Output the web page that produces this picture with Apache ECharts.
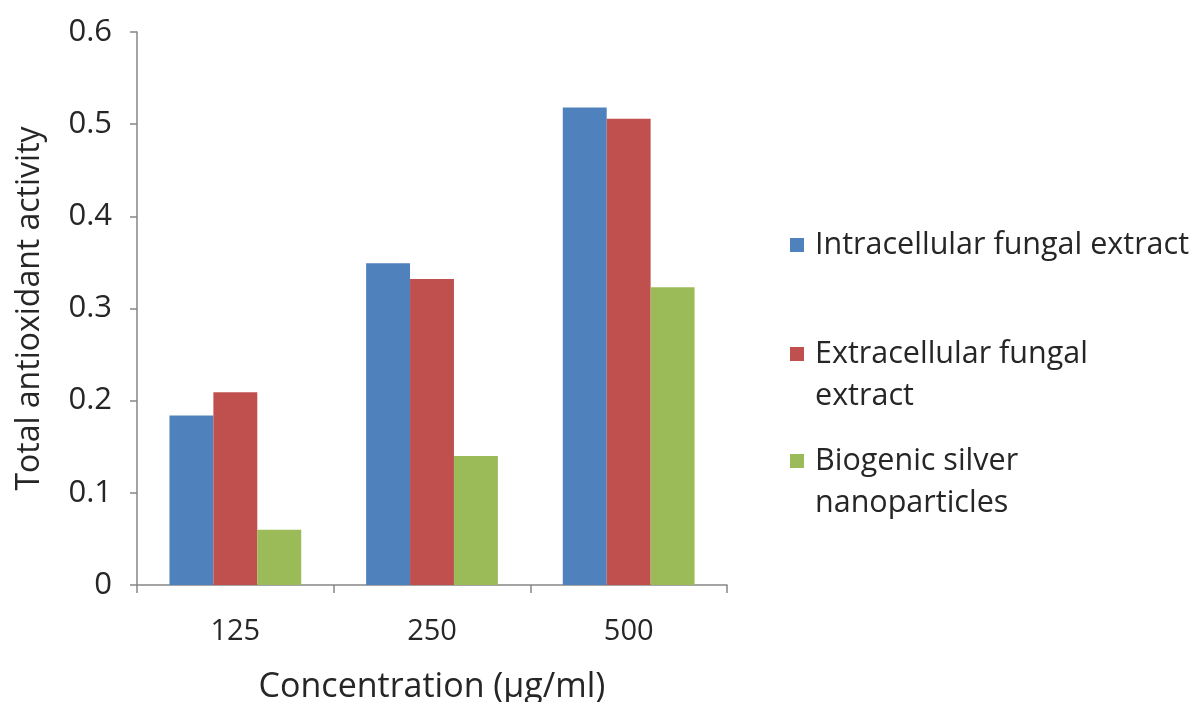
<!DOCTYPE html>
<html>
<head>
<meta charset="utf-8">
<script src="https://cdn.jsdelivr.net/npm/echarts@6/dist/echarts.min.js"></script>
<style>
html,body{margin:0;padding:0;background:#fff;}
#chart{width:1197px;height:702px;}
</style>
</head>
<body>
<div id="chart"></div>
<script>
const categories = ['125', '250', '500'];
const seriesNames = ['Intracellular fungal extract', 'Extracellular fungal extract', 'Biogenic silver nanoparticles'];
const legendLabels = ['Intracellular fungal extract', ' \nExtracellular fungal\nextract', ' \nBiogenic silver\nnanoparticles'];
const intracellular = [0.184, 0.349, 0.518];
const extracellular = [0.209, 0.332, 0.506];
const biogenic = [0.060, 0.140, 0.323];
const yTicks = [0, 0.1, 0.2, 0.3, 0.4, 0.5, 0.6];

const colors = ['#4F81BD', '#C0504D', '#9BBB59'];
const FONT = 'Open Sans';
const seriesData = [intracellular, extracellular, biogenic];
const legendCenters = [245, 354, 461];
const LH = 42;

const chart = echarts.init(document.getElementById('chart'), null, {renderer: 'canvas'});
chart.setOption({
  animation: false,
  textStyle: {fontFamily: FONT},
  grid: {left: 137, right: 470, top: 32, bottom: 117, containLabel: false, outerBoundsMode: 'none'},
  legend: seriesNames.map((n, i) => {
    const lines = legendLabels[i].split('\n').length;
    return {
      data: [n],
      orient: 'vertical',
      left: 790,
      top: legendCenters[i] - lines * LH / 2,
      padding: 0,
      icon: 'rect',
      itemWidth: 14,
      itemHeight: 14,
      itemGap: 0,
      selectedMode: false,
      formatter: () => legendLabels[i],
      textStyle: {fontFamily: FONT, fontSize: 30.5, color: '#262626', lineHeight: LH, padding: [0, 0, 0, 6]}
    };
  }),
  xAxis: {
    type: 'category',
    data: categories,
    name: 'Concentration (µg/ml)',
    nameLocation: 'middle',
    nameGap: 85,
    nameTextStyle: {fontSize: 34, color: '#262626', fontFamily: FONT, verticalAlign: 'top'},
    axisLine: {lineStyle: {color: '#868686', width: 1.5}},
    axisTick: {show: true, length: 8, lineStyle: {color: '#868686', width: 1.5}},
    axisLabel: {fontSize: 29, color: '#262626', margin: 32, fontFamily: FONT}
  },
  yAxis: {
    type: 'value',
    min: yTicks[0],
    max: yTicks[yTicks.length - 1],
    interval: 0.1,
    name: 'Total antioxidant activity',
    nameLocation: 'middle',
    nameGap: 91,
    nameTextStyle: {fontSize: 32, color: '#262626', fontFamily: FONT},
    axisLine: {show: true, lineStyle: {color: '#868686', width: 1.5}},
    axisTick: {show: true, length: 7, lineStyle: {color: '#868686', width: 1.5}},
    splitLine: {show: false},
    axisLabel: {fontSize: 31, color: '#262626', margin: 25, fontFamily: FONT,
      formatter: v => String(Math.round(v * 10) / 10)}
  },
  series: seriesNames.map((n, i) => ({
    name: n,
    type: 'bar',
    data: seriesData[i],
    itemStyle: {color: colors[i]},
    barGap: '0%',
    barCategoryGap: '33%'
  }))
});
</script>
</body>
</html>
